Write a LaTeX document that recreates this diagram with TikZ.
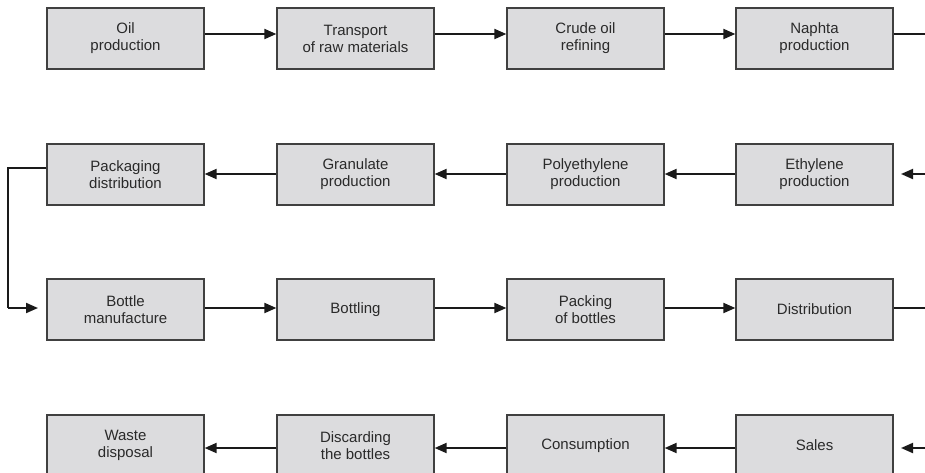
\documentclass[tikz,border=0pt]{standalone}
\usepackage{fontspec}
\setmainfont{Liberation Sans}
\usetikzlibrary{arrows.meta}
\definecolor{boxfill}{HTML}{DCDCDE}
\definecolor{boxline}{HTML}{404040}
\definecolor{conn}{HTML}{1A1A1A}
\definecolor{txt}{HTML}{2A2A2A}
\begin{document}
\begin{tikzpicture}[x=1pt,y=-1pt,
  stepbox/.style={draw=boxline,fill=boxfill,line width=1.3pt,minimum width=157pt,minimum height=61pt,
    inner sep=0pt,align=center,text=txt,font=\fontsize{15}{17}\selectfont},
  conn/.style={draw=conn,line width=2pt},
  arr/.style={conn,-{Triangle[length=12pt,width=10pt]}}]
\useasboundingbox (0,0) rectangle (925,472);
% row 1
\node[stepbox] (oil) at (125.5,38.5) {Oil\\production};
\node[stepbox] (trans) at (355.5,38.5) {Transport\\of raw materials};
\node[stepbox] (crude) at (585.5,38.5) {Crude oil\\refining};
\node[stepbox] (naph) at (814.5,38.5) {Naphta\\production};
% row 2
\node[stepbox] (pack) at (125.5,174.5) {Packaging\\distribution};
\node[stepbox] (gran) at (355.5,174.5) {Granulate\\production};
\node[stepbox] (poly) at (585.5,174.5) {Polyethylene\\production};
\node[stepbox] (eth) at (814.5,174.5) {Ethylene\\production};
% row 3
\node[stepbox] (bman) at (125.5,309.5) {Bottle\\manufacture};
\node[stepbox] (bott) at (355.5,309.5) {Bottling};
\node[stepbox] (packb) at (585.5,309.5) {Packing\\of bottles};
\node[stepbox] (dist) at (814.5,309.5) {Distribution};
% row 4
\node[stepbox] (waste) at (125.5,445.5) {Waste\\disposal};
\node[stepbox] (disc) at (355.5,445.5) {Discarding\\the bottles};
\node[stepbox] (cons) at (585.5,445.5) {Consumption};
\node[stepbox] (sales) at (814.5,445.5) {Sales};
% free ends
\coordinate (r1) at (926,34);
\coordinate (r2s) at (926,174);
\coordinate (r2e) at (901,174);
\coordinate (r3) at (926,308);
\coordinate (r4s) at (926,448);
\coordinate (r4e) at (901,448);
\coordinate (l1) at (8,168);
\coordinate (l2) at (8,308);
\coordinate (l3) at (38,308);
% row 1 connectors
\draw[arr] ([yshift=4.5pt]oil.east) -- ([yshift=4.5pt]trans.west);
\draw[arr] ([yshift=4.5pt]trans.east) -- ([yshift=4.5pt]crude.west);
\draw[arr] ([yshift=4.5pt]crude.east) -- ([yshift=4.5pt]naph.west);
\draw[conn] ([yshift=4.5pt]naph.east) -- (r1);
% row 2
\draw[arr] (r2s) -- (r2e);
\draw[arr] ([yshift=0.5pt]eth.west) -- ([yshift=0.5pt]poly.east);
\draw[arr] ([yshift=0.5pt]poly.west) -- ([yshift=0.5pt]gran.east);
\draw[arr] ([yshift=0.5pt]gran.west) -- ([yshift=0.5pt]pack.east);
\draw[conn] ([yshift=6.5pt]pack.west) -- (l1) -- (l2);
\draw[arr] (l2) -- (l3);
% row 3
\draw[arr] ([yshift=1.5pt]bman.east) -- ([yshift=1.5pt]bott.west);
\draw[arr] ([yshift=1.5pt]bott.east) -- ([yshift=1.5pt]packb.west);
\draw[arr] ([yshift=1.5pt]packb.east) -- ([yshift=1.5pt]dist.west);
\draw[conn] ([yshift=1.5pt]dist.east) -- (r3);
% row 4
\draw[arr] (r4s) -- (r4e);
\draw[arr] ([yshift=-2.5pt]sales.west) -- ([yshift=-2.5pt]cons.east);
\draw[arr] ([yshift=-2.5pt]cons.west) -- ([yshift=-2.5pt]disc.east);
\draw[arr] ([yshift=-2.5pt]disc.west) -- ([yshift=-2.5pt]waste.east);
\end{tikzpicture}
\end{document}
